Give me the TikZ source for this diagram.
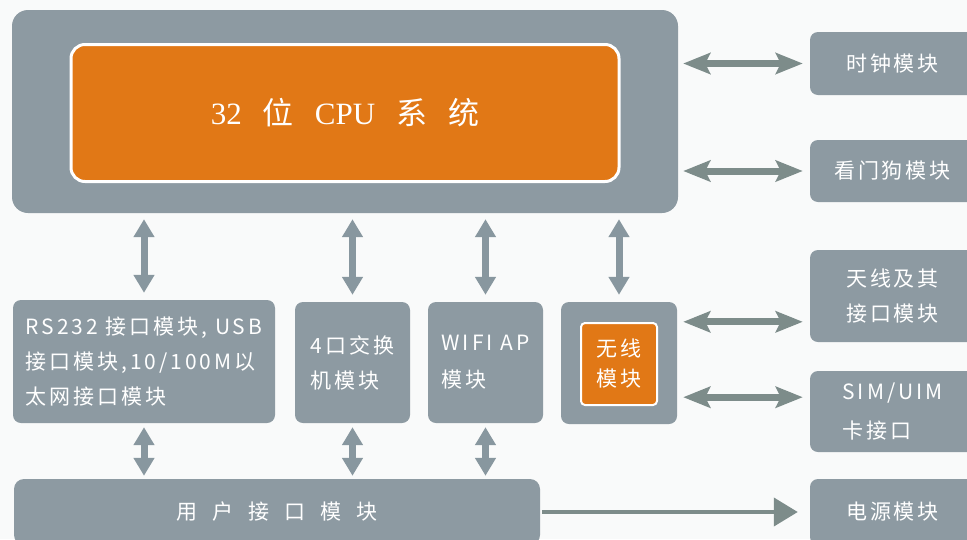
\documentclass[tikz,border=0pt]{standalone}
\usepackage{fontspec}
\usetikzlibrary{arrows.meta}
\newfontfamily\cjk[LetterSpace=14]{Noto Sans CJK SC}
\newfontfamily\cjkplain{Noto Sans CJK SC}
\newfontfamily\serifLatin{Liberation Serif}
\definecolor{boxgray}{RGB}{141,154,162}
\definecolor{arrgray}{RGB}{125,140,138}
\definecolor{varrgray}{RGB}{136,151,159}
\definecolor{cpuorange}{RGB}{225,120,22}
\definecolor{bgc}{RGB}{249,250,250}
\tikzset{
  box/.style={fill=boxgray, rounded corners=8pt, inner sep=0pt, text=white,
    font={\cjk\fontsize{21}{35}\selectfont}, align=left},
  vdbl/.style={line width=7pt, draw=varrgray,
    {Triangle[width=20pt,length=18pt]}-{Triangle[width=20pt,length=18pt]}},
  hdbl/.style={line width=7pt, draw=arrgray,
    {Stealth[width=21pt,length=27pt,inset=5pt]}-{Stealth[width=21pt,length=27pt,inset=5pt]}},
  sarr/.style={line width=4pt, draw=arrgray, -{Triangle[width=28pt,length=24pt]}}
}
\begin{document}
\begin{tikzpicture}[x=1pt,y=-1pt]
\clip (0,0) rectangle (967,539);
\fill[bgc] (0,0) rectangle (967,539);
% CPU block
\node[box, rounded corners=16pt, minimum width=666pt, minimum height=203pt] (cpu) at (345,111.5) {};
\node[fill=cpuorange, draw=white, line width=3pt, rounded corners=14pt, inner sep=0pt,
  minimum width=548pt, minimum height=137pt, text=white, font=\fontsize{31}{34}\selectfont] (core) at (345,113)
  {{\serifLatin 32}\hspace{21pt}{\cjkplain 位}\hspace{21pt}{\serifLatin CPU}\hspace{21pt}{\cjkplain 系}\hspace{21pt}{\cjkplain 统}};
% right boxes
\node[box, minimum width=165pt, minimum height=63pt] (clock) at (892.5,63.5) {时钟模块};
\node[box, minimum width=165pt, minimum height=62pt] (wd) at (892.5,171) {看门狗模块};
\node[box, minimum width=165pt, minimum height=92pt] (ant) at (892.5,296) {天线及其\\接口模块};
\node[box, minimum width=165pt, minimum height=81pt, font={\cjk\fontsize{21}{39}\selectfont}] (sim) at (892.5,411.5) {SIM/UIM\\卡接口};
\node[box, minimum width=165pt, minimum height=66pt] (pwr) at (892.5,512) {电源模块};
% bottom row
\node[box, minimum width=262pt, minimum height=123pt] (rs) at (144,361.5) {RS232 接口模块, USB\\接口模块,10/100M以\\太网接口模块};
\node[box, minimum width=115pt, minimum height=121pt] (sw) at (352.5,362.5) {4口交换\\机模块};
\node[box, minimum width=115pt, minimum height=121pt, font={\cjk\fontsize{21}{37}\selectfont}] (wifi) at (485.5,362.5) {WIFI AP\\模块};
\node[box, minimum width=116pt, minimum height=122pt] (wl) at (619,363) {};
\node[fill=cpuorange, draw=white, line width=2pt, rounded corners=4pt, inner sep=0pt,
  minimum width=76pt, minimum height=82pt, text=white, align=left,
  font={\cjk\fontsize{21}{30}\selectfont}] (wlc) at (619,364) {无线\\模块};
\node[box, rounded corners=10pt, minimum width=526pt, minimum height=66pt, font={\cjkplain\fontsize{21}{25}\selectfont}] (user) at (277,512)
  {用\hspace{15pt}户\hspace{15pt}接\hspace{15pt}口\hspace{15pt}模\hspace{15pt}块};
% vertical arrows CPU <-> modules
\foreach \m in {rs,sw,wifi,wl}
  \draw[vdbl, shorten <=6pt, shorten >=7pt] (cpu.south -| \m.north) -- (\m.north);
% vertical arrows modules <-> user
\foreach \m in {rs,sw,wifi}
  \draw[vdbl, shorten <=4pt, shorten >=3pt] (\m.south) -- (\m.south |- user.north);
% horizontal arrows
\draw[hdbl, shorten <=5pt, shorten >=7pt] (cpu.east |- clock.west) -- (clock.west);
\draw[hdbl, shorten <=5pt, shorten >=7pt] (cpu.east |- wd.west) -- (wd.west);
\coordinate (wa) at ([yshift=-20pt]wl.north east);
\coordinate (wb) at ([yshift=27pt]wl.south east);
\draw[hdbl, shorten <=6pt, shorten >=7pt] (wa) -- (wa -| ant.west);
\draw[hdbl, shorten <=6pt, shorten >=7pt] (wb) -- (wb -| sim.west);
\draw[sarr, shorten <=2pt, shorten >=12pt] (user.east) -- (pwr.west);
\end{tikzpicture}
\end{document}
